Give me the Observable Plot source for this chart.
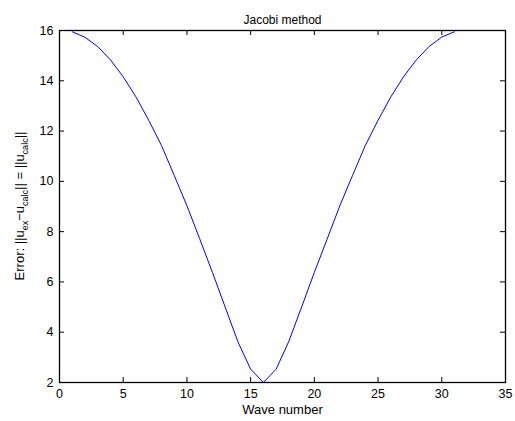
<!DOCTYPE html>
<html><head><meta charset="utf-8">
<script src="https://cdn.jsdelivr.net/npm/d3@7"></script>
<script src="https://cdn.jsdelivr.net/npm/@observablehq/plot@0.6"></script>
<style>html,body{margin:0;padding:0;background:#fff} svg{display:block}</style>
</head><body><div id="chart"></div>
<script>
const waveNumber = [1,2,3,4,5,6,7,8,9,10,11,12,13,14,15,16,17,18,19,20,21,22,23,24,25,26,27,28,29,30,31];
const errorNorm = [15.95,15.73,15.36,14.83,14.16,13.36,12.43,11.43,10.24,9.03,7.72,6.38,5.00,3.62,2.53,2.00,
                   2.53,3.64,5.00,6.38,7.70,9.03,10.24,11.43,12.43,13.36,14.16,14.83,15.36,15.74,15.95];
const xTicks = [0,5,10,15,20,25,30,35];
const yTicks = [2,4,6,8,10,12,14,16];
const titleText = "Jacobi method";
const xLabelText = "Wave number";
const yLabelParts = [["Error: ||u",false],["ex",true],["\u2212u",false],["calc",true],["|| = ||u",false],["calc",true],["||",false]];

const W = 515, H = 421, mL = 59, mR = 10, mT = 30, mB = 39;
const fw = W - mL - mR, fh = H - mT - mB;
const data = waveNumber.map((k, i) => ({k, e: errorNorm[i]}));

const svg = Plot.plot({
  width: W, height: H,
  marginLeft: mL, marginRight: mR, marginTop: mT, marginBottom: mB,
  style: {fontFamily: "'Liberation Sans', Arial, Helvetica, sans-serif", fontSize: "13px", background: "#fff", color: "#000"},
  x: {domain: [0, 35], label: null},
  y: {domain: [2, 16], label: null},
  marks: [
    Plot.axisX(xTicks, {tickSize: 0, tickPadding: 7, fontSize: 12.5}),
    Plot.axisY(yTicks, {tickSize: 0, tickPadding: 6, fontSize: 12.5}),
    Plot.tickX(xTicks, {x: d => d, insetTop: fh - 5, stroke: "black"}),
    Plot.tickX(xTicks, {x: d => d, insetBottom: fh - 5, stroke: "black"}),
    Plot.tickY(yTicks, {y: d => d, insetRight: fw - 5, stroke: "black"}),
    Plot.tickY(yTicks, {y: d => d, insetLeft: fw - 5, stroke: "black"}),
    Plot.line(data, {x: "k", y: "e", stroke: "#0000ff", strokeWidth: 1}),
    Plot.frame({stroke: "black", strokeWidth: 1.3}),
    Plot.text([titleText], {frameAnchor: "top", dy: -15, fontSize: 12, fill: "black"}),
    Plot.text([xLabelText], {frameAnchor: "bottom", dy: 31.5, fontSize: 13, fill: "black"})
  ]
});

const yl = d3.select(svg).append("text")
  .attr("transform", `translate(24,${mT + fh / 2}) rotate(-90)`)
  .attr("text-anchor", "middle")
  .attr("fill", "black")
  .style("font-size", "13px");
let shifted = false;
for (const [s, sub] of yLabelParts) {
  const ts = yl.append("tspan").text(s);
  if (sub && !shifted) { ts.attr("dy", 4).style("font-size", "9px"); shifted = true; }
  else if (!sub && shifted) { ts.attr("dy", -4); shifted = false; }
  else if (sub) ts.style("font-size", "9px");
}

document.getElementById("chart").appendChild(svg);
</script>
</body></html>
